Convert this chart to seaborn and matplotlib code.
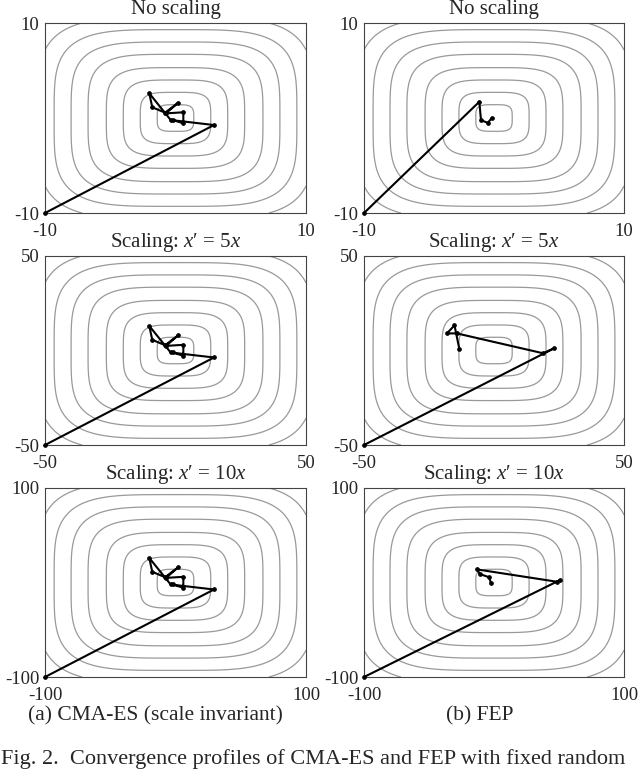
import numpy as np
import pandas as pd
import matplotlib
matplotlib.use("Agg")
import matplotlib.pyplot as plt
import seaborn as sns

# ---------------------------
# Data
# ---------------------------
# contour radii along the axes of the unscaled problem
contour_radii = [1.4, 2.7, 4.0, 5.3, 6.7, 8.0, 9.3, 10.6]

scales = [1, 5, 10]
row_titles = ["No scaling", "Scaling: $x$\u2032 = 5$x$", "Scaling: $x$\u2032 = 10$x$"]

# CMA-ES path (unscaled coords); scale invariant -> same path in every row
cma_x = [-10, 2.95, -0.37, -2.01, -1.78, -0.80, 0.21, -0.73, 0.60, 0.60, -0.21]
cma_y = [-10, -0.74, -0.21, 2.60, 1.13, 0.56, 1.61, 0.49, 0.60, -0.56, -0.21]

# FEP paths, one per scaling
fep_x_1 = [-10, -1.13, -1.0, -0.48, -0.18]
fep_y_1 = [-10, 1.71, -0.23, -0.51, -0.02]
fep_x_5 = [-50, 23.1, 18.9, -14.3, -18.1, -15.2, -13.3]
fep_y_5 = [-50, 1.16, -1.47, 9.05, 9.05, 13.3, 0.63]
fep_x_10 = [-100, 50.8, 48.2, -13.3, -10.8, -3.6, -2.5]
fep_y_10 = [-100, 2.6, 0.84, 13.9, 8.9, 5.5, -0.2]

fep_paths = [(fep_x_1, fep_y_1), (fep_x_5, fep_y_5), (fep_x_10, fep_y_10)]

subcaptions = ["(a) CMA-ES (scale invariant)", "(b) FEP"]
caption = "Fig. 2.  Convergence profiles of CMA-ES and FEP with fixed random"

# ---------------------------
# Style
# ---------------------------
sns.set_style("white")
plt.rcParams['font.family'] = ['Liberation Serif', 'DejaVu Serif']
plt.rcParams['mathtext.fontset'] = 'custom'
plt.rcParams['mathtext.rm'] = 'Liberation Serif'
plt.rcParams['mathtext.it'] = 'Liberation Serif:italic'
plt.rcParams['axes.unicode_minus'] = False

W, H = 640, 770
fig = plt.figure(figsize=(W / 100, H / 100), dpi=100)

col_left = [45, 364]
col_width = [261, 260]
row_top = [23, 256, 488]
row_height = [190, 189, 189]


def draw_panel(ax, s, px, py, title):
    L = 10 * s
    g = np.linspace(-L, L, 401)
    X, Y = np.meshgrid(g, g)
    F = (X / s) ** 4 + (Y / s) ** 4
    ax.contour(X, Y, F, levels=[r ** 4 for r in contour_radii],
               colors='#999999', linewidths=0.9)
    df = pd.DataFrame({'x': px, 'y': py})
    sns.lineplot(data=df, x='x', y='y', sort=False, estimator=None,
                 color='black', linewidth=1.5, marker='o', markersize=2.6,
                 markeredgecolor='black', ax=ax, clip_on=False, zorder=5)
    ax.set_xlim(-L, L)
    ax.set_ylim(-L, L)
    ax.set_xticks([-L, L])
    ax.set_yticks([-L, L])
    ax.set_xticklabels([str(-L), str(L)])
    ax.set_yticklabels([str(-L), str(L)])
    ax.tick_params(length=0, labelsize=13.5)
    ax.tick_params(axis='x', pad=7)
    ax.tick_params(axis='y', pad=4)
    ax.set_xlabel('')
    ax.set_ylabel('')
    for sp in ax.spines.values():
        sp.set_color('#444444')
        sp.set_linewidth(0.8)
    ax.set_title(title, fontsize=15, pad=6.5)


for r, s in enumerate(scales):
    for c in range(2):
        rect = [col_left[c] / W, 1 - (row_top[r] + row_height[r]) / H,
                col_width[c] / W, row_height[r] / H]
        ax = fig.add_axes(rect)
        if c == 0:
            px = [v * s for v in cma_x]
            py = [v * s for v in cma_y]
        else:
            px, py = fep_paths[r]
        draw_panel(ax, s, px, py, row_titles[r])

fig.text(155 / W, 1 - 716 / H, subcaptions[0], ha='center', va='center', fontsize=15.5)
fig.text(480 / W, 1 - 716 / H, subcaptions[1], ha='center', va='center', fontsize=15.5)
fig.text(1 / W, 1 - 759 / H, caption, ha='left', va='center', fontsize=16)

fig.savefig("out.png", dpi=100)
